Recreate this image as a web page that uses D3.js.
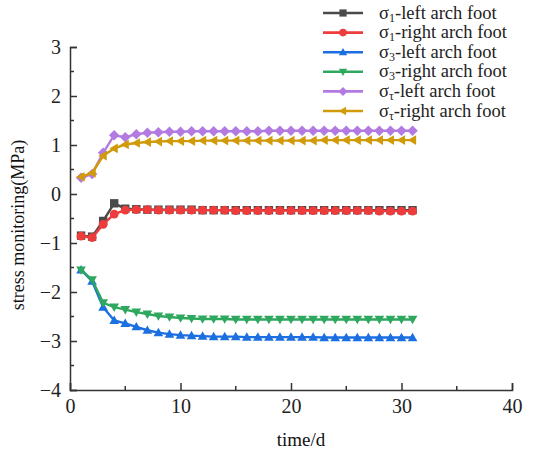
<!DOCTYPE html>
<html>
<head>
<meta charset="utf-8">
<script src="https://cdn.jsdelivr.net/npm/d3@7"></script>
<style>
  body { margin: 0; background: #fff; }
  svg text { font-family: 'Liberation Serif', serif; }
</style>
</head>
<body>
<svg id="chart" width="535" height="452"></svg>
<script>
const days = d3.range(1, 32);

const s1Left  = [-0.85, -0.87, -0.55, -0.19, -0.30, -0.31, -0.32, -0.32, -0.32, -0.32, -0.32, -0.33, -0.33, -0.33, -0.33, -0.33, -0.33, -0.33, -0.33, -0.33, -0.33, -0.33, -0.33, -0.33, -0.33, -0.33, -0.33, -0.33, -0.33, -0.33, -0.33];
const s1Right = [-0.86, -0.89, -0.62, -0.41, -0.33, -0.32, -0.32, -0.33, -0.33, -0.33, -0.33, -0.33, -0.33, -0.33, -0.34, -0.34, -0.34, -0.34, -0.34, -0.34, -0.34, -0.34, -0.34, -0.34, -0.34, -0.34, -0.34, -0.35, -0.35, -0.35, -0.35];
const s3Left  = [-1.55, -1.78, -2.31, -2.58, -2.64, -2.71, -2.78, -2.83, -2.86, -2.88, -2.89, -2.90, -2.91, -2.91, -2.91, -2.92, -2.92, -2.92, -2.92, -2.92, -2.92, -2.92, -2.93, -2.93, -2.93, -2.93, -2.93, -2.93, -2.93, -2.93, -2.93];
const s3Right = [-1.55, -1.75, -2.22, -2.31, -2.36, -2.41, -2.45, -2.49, -2.51, -2.53, -2.54, -2.55, -2.55, -2.55, -2.56, -2.56, -2.56, -2.56, -2.56, -2.56, -2.56, -2.56, -2.56, -2.56, -2.56, -2.56, -2.56, -2.56, -2.56, -2.56, -2.56];
const stLeft  = [0.33, 0.41, 0.84, 1.20, 1.16, 1.22, 1.25, 1.26, 1.27, 1.27, 1.28, 1.28, 1.28, 1.28, 1.28, 1.28, 1.28, 1.29, 1.29, 1.29, 1.29, 1.29, 1.29, 1.29, 1.29, 1.29, 1.29, 1.29, 1.29, 1.29, 1.29];
const stRight = [0.35, 0.43, 0.78, 0.93, 1.01, 1.04, 1.06, 1.07, 1.08, 1.08, 1.08, 1.09, 1.09, 1.09, 1.09, 1.09, 1.09, 1.09, 1.09, 1.09, 1.09, 1.09, 1.10, 1.10, 1.10, 1.10, 1.10, 1.10, 1.10, 1.10, 1.10];

const xTicks = [0, 10, 20, 30, 40];
const yTicks = [-4, -3, -2, -1, 0, 1, 2, 3];

const series = [
  { sym: "1", name: "-left arch foot",  values: s1Left,  color: "#4a4a4a", shape: "square" },
  { sym: "1", name: "-right arch foot", values: s1Right, color: "#ee3b3b", shape: "circle" },
  { sym: "3", name: "-left arch foot",  values: s3Left,  color: "#1c6fe0", shape: "up" },
  { sym: "3", name: "-right arch foot", values: s3Right, color: "#2ea85e", shape: "down" },
  { sym: "τ", name: "-left arch foot",  values: stLeft,  color: "#b37be2", shape: "diamond" },
  { sym: "τ", name: "-right arch foot", values: stRight, color: "#d09a08", shape: "left" }
];

const svg = d3.select("#chart");
const x = d3.scaleLinear().domain([0, 40]).range([70, 512]);
const y = d3.scaleLinear().domain([-4, 3]).range([390, 47]);

const axisColor = "#333";

// markers
const markerPath = (shape, r) => {
  switch (shape) {
    case "square": return `M${-r},${-r}h${2*r}v${2*r}h${-2*r}Z`;
    case "up": return `M0,${-r*1.15}L${r*1.15},${r*0.85}L${-r*1.15},${r*0.85}Z`;
    case "down": return `M0,${r*1.15}L${r*1.15},${-r*0.85}L${-r*1.15},${-r*0.85}Z`;
    case "left": return `M${-r*1.15},0L${r*0.85},${-r*1.15}L${r*0.85},${r*1.15}Z`;
    case "diamond": return `M0,${-r*1.25}L${r*1.25},0L0,${r*1.25}L${-r*1.25},0Z`;
    default: return d3.symbol(d3.symbolCircle, Math.PI * r * r * 1.1)();
  }
};

const line = d3.line().x((d, i) => x(days[i])).y(d => y(d));

series.forEach(s => {
  const g = svg.append("g");
  g.append("path")
    .attr("d", line(s.values))
    .attr("fill", "none")
    .attr("stroke", s.color)
    .attr("stroke-width", 2.4);
  g.selectAll("path.m")
    .data(s.values)
    .enter().append("path")
    .attr("class", "m")
    .attr("transform", (d, i) => `translate(${x(days[i])},${y(d)})`)
    .attr("d", markerPath(s.shape, 4.2))
    .attr("fill", s.color);
});

// axes (ticks pointing inward)
const xAxis = d3.axisBottom(x).tickValues(xTicks).tickSize(-7).tickPadding(11).tickFormat(d3.format("d"));
const yAxis = d3.axisLeft(y).tickValues(yTicks).tickSize(-7).tickPadding(9).tickFormat(d => d < 0 ? "\u2212" + Math.abs(d) : d);

const xg = svg.append("g").attr("transform", `translate(0,${y(-4)})`).call(xAxis);
const yg = svg.append("g").attr("transform", `translate(${x(0)},0)`).call(yAxis);

// minor ticks
xg.selectAll(".minor").data([5, 15, 25, 35]).enter().append("line")
  .attr("x1", d => x(d)).attr("x2", d => x(d)).attr("y1", 0).attr("y2", -4)
  .attr("stroke", axisColor).attr("stroke-width", 1.5);
yg.selectAll(".minor").data([-3.5, -2.5, -1.5, -0.5, 0.5, 1.5, 2.5]).enter().append("line")
  .attr("y1", d => y(d)).attr("y2", d => y(d)).attr("x1", 0).attr("x2", 4)
  .attr("stroke", axisColor).attr("stroke-width", 1.5);

[xg, yg].forEach(g => {
  g.attr("font-family", "Liberation Serif");
  g.select(".domain").attr("stroke", axisColor).attr("stroke-width", 1.5);
  g.selectAll(".tick line").attr("stroke", axisColor).attr("stroke-width", 1.5);
  g.selectAll(".tick text")
    .attr("fill", "#222")
    .attr("style", "font-family:'Liberation Serif',serif;font-size:20px");
});
xg.selectAll(".tick text").attr("dy", "0.6em");

// axis titles
svg.append("text")
  .attr("x", 301).attr("y", 446)
  .attr("text-anchor", "middle")
  .attr("style", "font-family:'Liberation Serif',serif;font-size:19px")
  .attr("fill", "#111")
  .text("time/d");

svg.append("text")
  .attr("transform", "translate(24,225) rotate(-90)")
  .attr("text-anchor", "middle")
  .attr("style", "font-family:'Liberation Serif',serif;font-size:18px")
  .attr("fill", "#111")
  .text("stress monitoring(MPa)");

// legend
const legend = svg.append("g");
series.forEach((s, i) => {
  const ly = 13 + i * 19.6;
  const row = legend.append("g").attr("transform", `translate(0,${ly})`);
  row.append("line")
    .attr("x1", 323).attr("x2", 363).attr("y1", 0).attr("y2", 0)
    .attr("stroke", s.color).attr("stroke-width", 2.6);
  row.append("path")
    .attr("transform", "translate(343,0)")
    .attr("d", markerPath(s.shape, 3.6))
    .attr("fill", s.color);
  const t = row.append("text")
    .attr("x", 379).attr("y", 5.5)
    .attr("style", "font-family:'Liberation Serif',serif;font-size:18.5px")
    .attr("fill", "#222");
  t.append("tspan").text("σ");
  t.append("tspan").text(s.sym).attr("dy", 3).style("font-size", "12px");
  t.append("tspan").text(s.name).attr("dy", -3);
});
</script>
</body>
</html>
